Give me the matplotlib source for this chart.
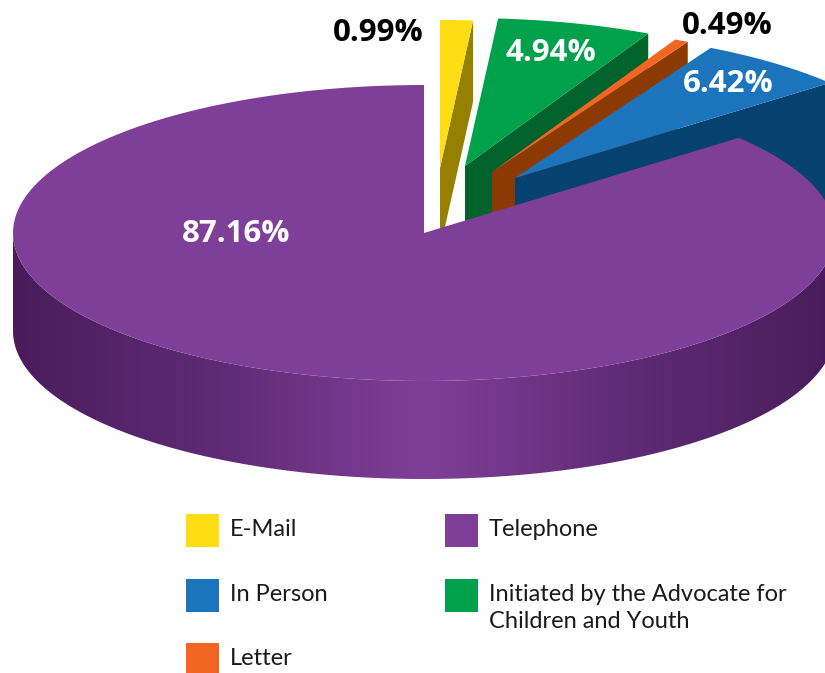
import numpy as np
import matplotlib
matplotlib.use("Agg")
import matplotlib.pyplot as plt
from matplotlib.colors import LinearSegmentedColormap
from matplotlib.patches import Polygon, Rectangle

# slices clockwise from twelve o'clock
slice_names = ["E-Mail", "Initiated by the Advocate for\nChildren and Youth", "Letter", "In Person", "Telephone"]
shares = [0.99, 4.94, 0.49, 6.42, 87.16]
top_colors = ["#FFDD15", "#00A14B", "#F26522", "#1C75BC", "#7F3F98"]
side_colors = ["#968000", "#00632B", "#8B3A04", "#064270", "#4A1C5C"]

# pulled-out wedges: apex offset from the pie centre and wall height
explode = [(16, -65), (41, -67), (68, -61), (91, -55), (0, 0)]
wall = [81, 80, 80, 122, 98]

legend_order = ["E-Mail", "Telephone", "In Person", "Initiated by the Advocate for\nChildren and Youth", "Letter"]
legend_pos = [(186, 514), (445, 514), (186, 579), (445, 579), (186, 643)]

CX, CY = 424, 233
RX, RY = 411, 148

plt.rcParams['font.family'] = ['Open Sans', 'DejaVu Sans']


def view_angle(f):
    # degrees clockwise from the top -> ellipse parameter, with the tilt foreshortening
    return 90 - (f + 5.7 * np.sin(np.radians(3 * f)))


def wedge_top(t0, t1, ox, oy):
    t = np.radians(np.linspace(t0, t1, 200))
    x = CX + ox + RX * np.cos(t)
    y = CY + oy - RY * np.sin(t)
    return np.column_stack([np.r_[CX + ox, x], np.r_[CY + oy, y]])


fig = plt.figure(figsize=(8.25, 6.73), dpi=100)
ax = fig.add_axes([0, 0, 1, 1])
ax.set_xlim(0, 825)
ax.set_ylim(673, 0)
ax.axis("off")

edges = np.r_[0, np.cumsum(shares)] * 3.6

# back to front: the small wedges, then the big one on top
for i in range(4):
    ox, oy = explode[i]
    t0, t1 = view_angle(edges[i]), view_angle(edges[i + 1])
    top = wedge_top(t0, t1, ox, oy)
    apex, tip = top[0], top[-1]
    cut = np.array([apex, tip, tip + [0, wall[i]], apex + [0, wall[i]]])
    ax.add_patch(Polygon(cut, closed=True, fc=side_colors[i], ec="none", zorder=2 + i))
    ax.add_patch(Polygon(top, closed=True, fc=top_colors[i], ec="none", zorder=2 + i))

# outer wall of the telephone wedge, shaded across its width
t = np.radians(np.linspace(180, 360, 300))
xs = CX + RX * np.cos(t)
ys = CY - RY * np.sin(t)
outer = np.r_[np.column_stack([xs, ys]), np.column_stack([xs, ys + wall[4]])[::-1]]
clip = Polygon(outer, closed=True, fc="none", ec="none", transform=ax.transData)
ax.add_patch(clip)
shade = LinearSegmentedColormap.from_list("wall", [side_colors[4], "#5F2B75", top_colors[4], "#5F2B75", side_colors[4]])
grad = ax.imshow(np.linspace(0, 1, 256)[None, :], extent=(CX - RX, CX + RX, 490, 220), cmap=shade,
                 aspect="auto", zorder=6)
grad.set_clip_path(clip)
ax.set_xlim(0, 825)
ax.set_ylim(673, 0)

t0 = view_angle(edges[4])
ax.add_patch(Polygon(wedge_top(t0, 90 - 360, 0, 0), closed=True, fc=top_colors[4], ec="none", zorder=7))

# percentage labels
labels = [("0.99%", 378, 33, "black"), ("4.94%", 551, 53, "white"), ("0.49%", 727, 26, "black"),
          ("6.42%", 728, 84, "white"), ("87.16%", 236, 234, "white")]
for text, x, y, c in labels:
    ax.text(x, y, text, color=c, fontsize=22.5, fontweight="bold", ha="center", va="center", zorder=10)

# legend
for name, (x, y) in zip(legend_order, legend_pos):
    c = top_colors[slice_names.index(name)]
    ax.add_patch(Rectangle((x, y), 33, 33, fc=c, ec="none", zorder=10))
    ax.text(x + 44, y + 5, name, color="#1a1a1a", fontsize=17, family=["Lato", "DejaVu Sans"],
            ha="left", va="top", linespacing=1.35, zorder=10)

fig.savefig("out.png", dpi=100)
